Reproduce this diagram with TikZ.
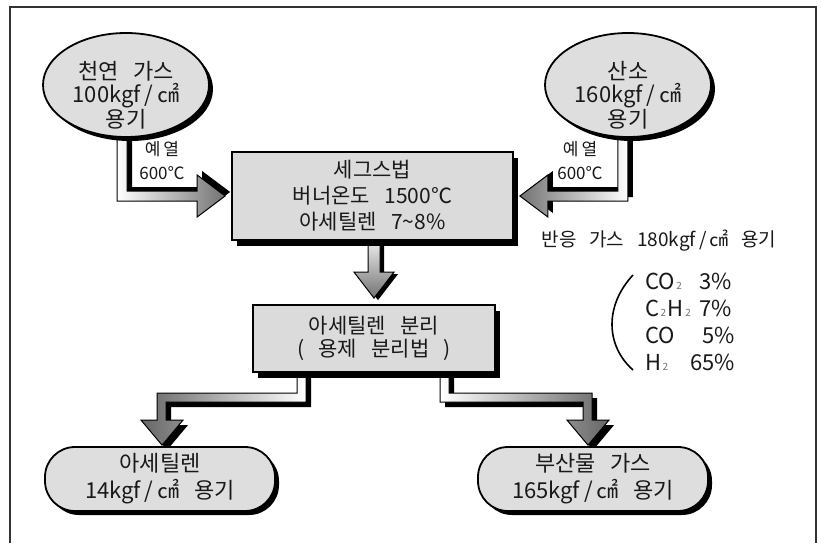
\documentclass[tikz,border=0pt]{standalone}
\usepackage{fontspec}
\setmainfont{Noto Sans CJK KR}[WordSpace=3]
\usetikzlibrary{shapes.geometric,shadows,calc}
\pgfdeclarelayer{back}
\pgfdeclarelayer{bg}
\pgfsetlayers{back,bg,main}
\newcommand\gsub[1]{\hspace{1.5pt}{\fontsize{10}{10}\selectfont\color{black!55}#1}\hspace{1.5pt}}
\newcommand\slsep{\hspace{4pt}/\hspace{4pt}}
\begin{document}
\begin{tikzpicture}[x=1pt,y=-1pt,
  maintxt/.style={font=\fontsize{21}{23}\selectfont, text=black!90, align=center, inner sep=0pt},
  elltxt/.style={font=\fontsize{22}{23}\selectfont, text=black!90, align=center, inner sep=0pt},
  ell/.style={ellipse, draw=black, line width=1.8pt, fill=black!13,
    minimum width=166pt, minimum height=104pt, inner sep=0pt,
    drop shadow={shadow xshift=4pt, shadow yshift=-4pt, opacity=1, fill=black}},
  procbox/.style={maintxt, rectangle, draw=black, line width=1.8pt, fill=black!14,
    drop shadow={shadow xshift=5pt, shadow yshift=-6pt, opacity=1, fill=black}},
  endbox/.style={elltxt, rectangle, rounded corners=30pt, draw=black, line width=1.8pt, fill=black!13,
    minimum height=64pt, minimum width=230pt,
    drop shadow={shadow xshift=4pt, shadow yshift=-4pt, opacity=1, fill=black}},
  heat/.style={font=\fontsize{17}{24}\selectfont, text=black!90, align=center, inner sep=0pt},
  note/.style={font=\fontsize{19}{22}\selectfont, text=black!90, inner sep=0pt},
  gas/.style={font=\fontsize{22}{24}\selectfont, text=black!90, inner sep=0pt},
  fatarrow/.style={draw=black, line width=1pt, line join=miter},
  shadowup/.style={drop shadow={shadow xshift=5pt, shadow yshift=4pt, opacity=1, fill=black}},
  shadowdown/.style={drop shadow={shadow xshift=5pt, shadow yshift=-5pt, opacity=1, fill=black}},
]
\useasboundingbox (0,0) rectangle (821,543);
\begin{pgfonlayer}{back}
\fill[white] (0,0) rectangle (821,543);
\end{pgfonlayer}
\draw[line width=1.3pt, black!80] (10,543) -- (10,7) -- (816,7) -- (816,543);

% nodes
\node[ell] (ng) at (126,85) {};
\node[elltxt] (ngt) at ($(ng.center)+(0,10)$) {천연 가스\\100kgf\slsep ㎠\\용기};
\node[ell] (ox) at (628,85) {};
\node[elltxt] (oxt) at ($(ox.center)+(0,10)$) {산소\\160kgf\slsep ㎠\\용기};
\node[procbox, minimum width=281pt, minimum height=88pt] (seg) at (372.5,196)
  {세그스법\\[3pt]버너온도 1500℃\\[3pt]아세틸렌 7\textasciitilde8\%};
\node[procbox, minimum width=242pt, minimum height=67pt] (sep) at (374,338.5)
  {아세틸렌 분리\\( 용제 분리법 )};
\node[endbox] (acet) at (160,479) {아세틸렌\\[4pt]14kgf\slsep ㎠ 용기};
\node[endbox] (byp) at (593,479) {부산물 가스\\[4pt]165kgf\slsep ㎠ 용기};

\node[heat] (h1) at (162,161) {예\hspace{3pt}열\\600℃};
\node[heat] (h2) at (580,161) {예\hspace{3pt}열\\600℃};

\node[note] (rg) at (659,241) {반응 가스 180kgf\,/\,㎠ 용기};

\node[gas, anchor=west] (g1) at (645,281) {CO\gsub{2}};
\node[gas, anchor=west] (g2) at (645,308) {C\gsub{2}H\gsub{2}};
\node[gas, anchor=west] (g3) at (645,335) {CO};
\node[gas, anchor=west] (g4) at (645,362) {H\gsub{2}};
\node[gas, anchor=east] (p1) at (732,281) {3\%};
\node[gas, anchor=east] (p2) at (732,308) {7\%};
\node[gas, anchor=east] (p3) at (735,335) {5\%};
\node[gas, anchor=east] (p4) at (735,362) {65\%};

\draw[line width=1.6pt] ($(g1.west)+(-12,-6)$) .. controls (605,305) and (605,345) .. ($(g4.west)+(-12,8)$);

% fat arrows, behind the shapes
\coordinate (tA) at ($(seg.west)+(-6,0)$);
\coordinate (tB) at ($(seg.east)+(6,0)$);
\coordinate (tC) at ($(sep.north)+(0,-6)$);
\coordinate (tD) at ($(acet.north)+(2,-1)$);
\coordinate (tE) at ($(byp.north)+(-5,-1)$);
\begin{pgfonlayer}{bg}
\path[fatarrow, shadowup, left color=white, right color=black!55]
  (tA) -- ++(-28,-21) -- ++(0,16) -- ++(-70,0) -- ++(0,-80) -- ++(-10,0)
  -- ++(0,90) -- ++(80,0) -- ++(0,16) -- cycle;
\path[fatarrow, shadowup, left color=black!55, right color=white]
  (tB) -- ++(28,-21) -- ++(0,16) -- ++(70,0) -- ++(0,-80) -- ++(10,0)
  -- ++(0,90) -- ++(-80,0) -- ++(0,16) -- cycle;
\path[fatarrow, drop shadow={shadow xshift=4pt, shadow yshift=-2pt, opacity=1, fill=black},
  top color=white, bottom color=black!55]
  (tC) -- ++(-20,-26) -- ++(14,0) -- ++(0,-40) -- ++(12,0) -- ++(0,40) -- ++(14,0) -- cycle;
\path[fatarrow, shadowdown, left color=black!60, right color=white]
  (tD) -- ++(-21,-25) -- ++(16,0) -- ++(0,-27) -- ++(140,0) -- ++(0,-30) -- ++(9,0)
  -- ++(0,39) -- ++(-140,0) -- ++(0,18) -- ++(17,0) -- cycle;
\path[fatarrow, shadowdown, left color=white, right color=black!60]
  (tE) -- ++(-21,-25) -- ++(16,0) -- ++(0,-18) -- ++(-143,0) -- ++(0,-39) -- ++(9,0)
  -- ++(0,30) -- ++(143,0) -- ++(0,27) -- ++(17,0) -- cycle;
\end{pgfonlayer}
\end{tikzpicture}
\end{document}
